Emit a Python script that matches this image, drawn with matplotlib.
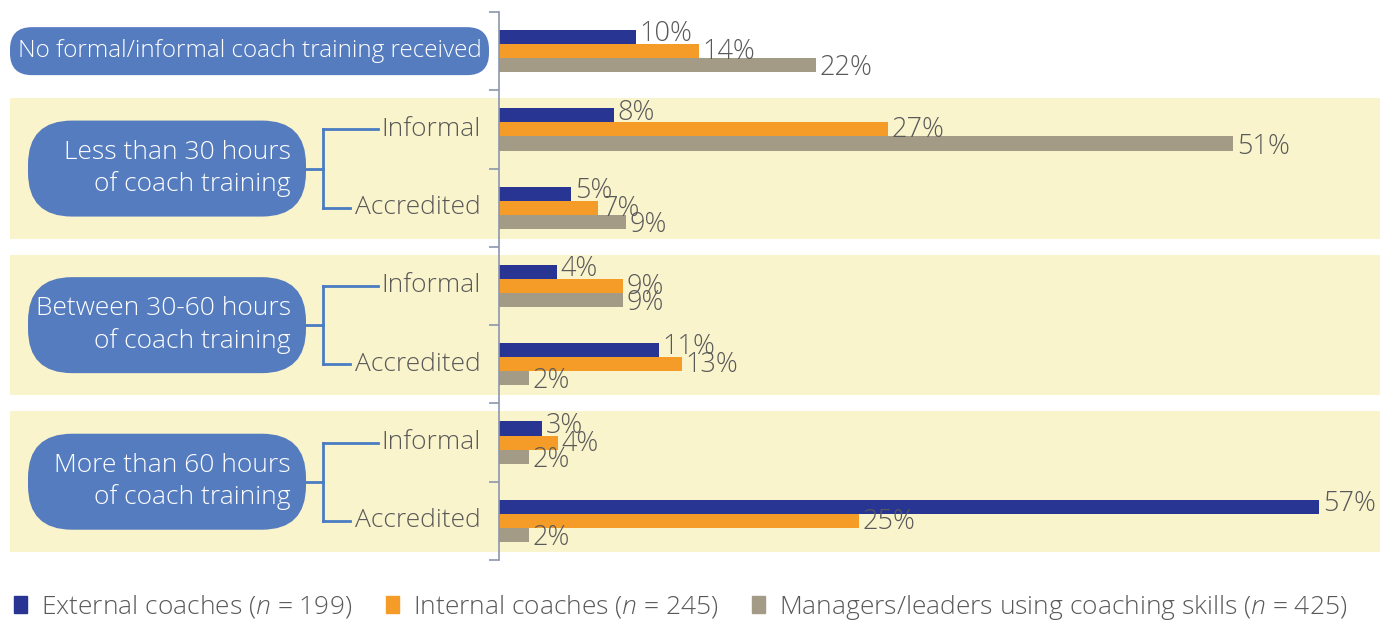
import matplotlib.pyplot as plt
from matplotlib.patches import FancyBboxPatch, Rectangle, Patch
from matplotlib.font_manager import FontProperties, fontManager
import numpy as np

# data (bar lengths, labels are the rounded values)
categories = ["No formal/informal coach training received",
              "Informal", "Accredited",
              "Informal", "Accredited",
              "Informal", "Accredited"]
groups = ["Less than 30 hours\nof coach training",
          "Between 30-60 hours\nof coach training",
          "More than 60 hours\nof coach training"]
external = [9.5, 8, 5, 4, 11.1, 3, 57]
internal = [13.9, 27, 6.9, 8.6, 12.7, 4.1, 25]
managers = [22, 51, 8.8, 8.6, 2.1, 2.1, 2.1]
series_names = ["External coaches ($n$ = 199)",
                "Internal coaches ($n$ = 245)",
                "Managers/leaders using coaching skills ($n$ = 425)"]
colors = ["#283593", "#F59B28", "#A39B86"]

plt.rcParams['font.family'] = ['Open Sans', 'DejaVu Sans']
plt.rcParams['mathtext.fontset'] = 'custom'
plt.rcParams['mathtext.it'] = 'Open Sans:italic:light'
plt.rcParams['mathtext.rm'] = 'Open Sans:light'


def light_font(size, fname="OpenSans-Light.ttf"):
    """Open Sans Light by file, so the condensed cut is not picked"""
    for f in fontManager.ttflist:
        if f.fname.endswith("/" + fname):
            return FontProperties(fname=f.fname, size=size)
    return FontProperties(family="Open Sans", weight="light", size=size)


W, H = 1389, 621
TOP, BOT = 12, 560
STEP = (BOT - TOP) / 7
TEXT = "#595959"
BOX = "#557CBF"
LINE = "#4A7CC3"
AXIS = "#8C96AD"
fp = light_font(19)
fp_val = light_font(19.5)


def cy(i):
    """pixel y of category centre"""
    return TOP + (i + 0.5) * STEP


fig = plt.figure(figsize=(W / 100, H / 100), dpi=100)

deco = fig.add_axes([0, 0, 1, 1])
deco.set_xlim(0, W)
deco.set_ylim(H, 0)
deco.axis("off")

ax = fig.add_axes([499 / W, 1 - BOT / H, 863.4 / W, (BOT - TOP) / H])
ax.set_zorder(1)
ax.patch.set_alpha(0)

# yellow bands and group boxes
for g, name in enumerate(groups):
    a = 1 + 2 * g
    b = a + 1
    top = cy(a) - STEP / 2 + 8
    bot = cy(b) + STEP / 2 - 8
    deco.add_patch(Rectangle((10, top), 1370, bot - top, color="#FAF4CC", lw=0))
    mid = (cy(a) + cy(b)) / 2
    deco.add_patch(FancyBboxPatch((28, mid - 48), 278, 96,
                                  boxstyle="round,pad=0,rounding_size=44",
                                  fc=BOX, ec="none"))
    deco.text(291, mid, name, ha="right", va="center", multialignment="right",
              color="white", fontproperties=fp, linespacing=1.32)
    # bracket
    deco.plot([306, 323], [mid, mid], color=LINE, lw=2)
    deco.plot([323, 323], [cy(a), cy(b)], color=LINE, lw=2)
    deco.plot([323, 378], [cy(a), cy(a)], color=LINE, lw=2)
    deco.plot([323, 350], [cy(b), cy(b)], color=LINE, lw=2)

# first category box
deco.add_patch(FancyBboxPatch((10, cy(0) - 24), 479, 48,
                              boxstyle="round,pad=0,rounding_size=22",
                              fc=BOX, ec="none"))
deco.text(249.5, cy(0), categories[0], ha="center", va="center",
          color="white", fontproperties=light_font(17.5))

for i in range(1, 7):
    deco.text(481, cy(i), categories[i], ha="right", va="center",
              color=TEXT, fontproperties=fp)

# bars
y = np.arange(len(categories))
h = 0.18
label_dy = [2.0, -0.7, -2.2]
for k, vals in enumerate([external, internal, managers]):
    ax.barh(y + (k - 1) * h, vals, height=h, color=colors[k])
    for yi, v in zip(y, vals):
        ax.annotate(f"{v:.0f}%", (v, yi + (k - 1) * h), xytext=(2.7, label_dy[k]),
                    textcoords="offset points", ha="left", va="center",
                    color=TEXT, fontproperties=fp_val)

ax.set_xlim(0, 60)
ax.set_ylim(6.5, -0.5)
for s in ["top", "right", "bottom"]:
    ax.spines[s].set_visible(False)
ax.spines["left"].set_color(AXIS)
ax.spines["left"].set_linewidth(1.2)
ax.set_xticks([])
ax.set_yticks(np.arange(-0.5, 7, 1))
ax.set_yticklabels([])
ax.tick_params(axis="y", length=7.5, width=1.2, color=AXIS)

handles = [Patch(color=c) for c in colors]
fig.legend(handles, series_names, loc="lower left", bbox_to_anchor=(-0.0032, -0.031),
           ncol=3, frameon=False, prop=light_font(19), handlelength=0.5,
           handleheight=0.6, handletextpad=0.53, columnspacing=1.27,
           labelcolor=TEXT, borderaxespad=0.3)

fig.savefig("out.png", dpi=100)
